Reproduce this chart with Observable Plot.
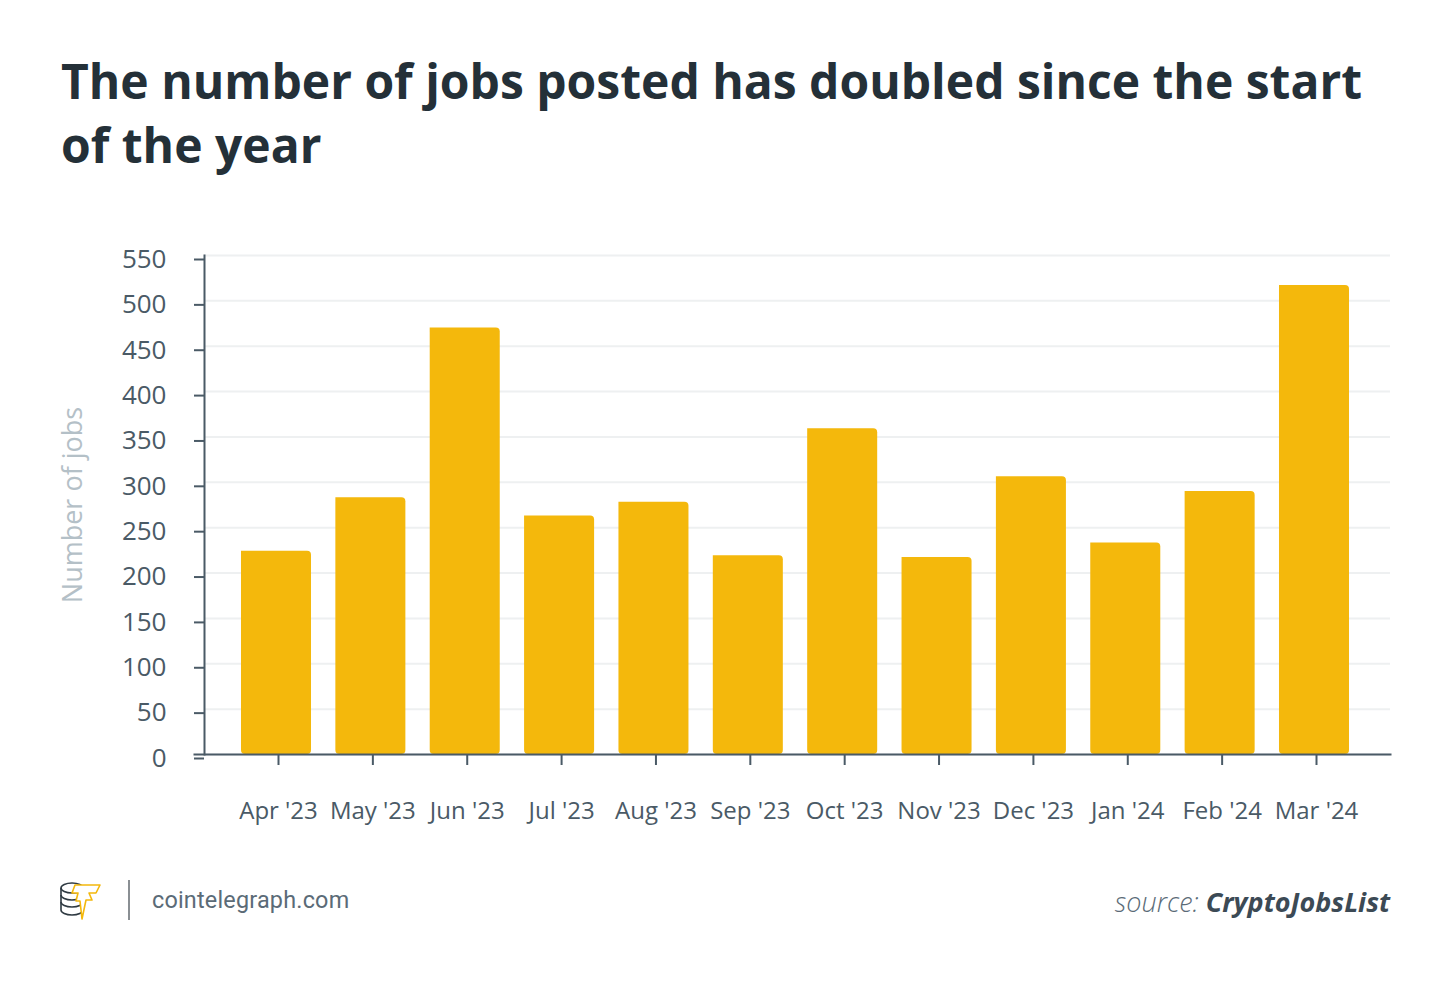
<!DOCTYPE html>
<html>
<head>
<meta charset="utf-8">
<script src="https://cdn.jsdelivr.net/npm/d3@7"></script>
<script src="https://cdn.jsdelivr.net/npm/@observablehq/plot@0.6"></script>
<style>
  html, body { margin: 0; padding: 0; background: #fff; }
  body { width: 1450px; height: 981px; position: relative; font-family: "Open Sans", sans-serif; overflow: hidden; }
  #title { position: absolute; left: 61px; top: 49px; width: 1330px; font-weight: 700; font-size: 48px; line-height: 64px; color: #243038; margin: 0; }
  #chart { position: absolute; left: 0; top: 200px; }
  #footer { position: absolute; left: 58px; top: 878px; height: 44px; display: flex; align-items: center; }
  #footer .sep { width: 2px; height: 40px; background: #8a8f93; margin-left: 26px; margin-right: 22px; }
  #footer .site { font-family: Roboto, "Open Sans", sans-serif; font-size: 23.4px; color: #5b6b77; letter-spacing: 0.2px; }
  #source { position: absolute; right: 60px; top: 883px; font-size: 27px; font-style: italic; color: #4a5a66; }
  #source .l { font-weight: 300; color: #5b6b77; }
  #source b { font-weight: 700; color: #3c4a55; }
</style>
</head>
<body>
<h1 id="title">The number of jobs posted has doubled since the start of the year</h1>
<div id="chart"></div>
<div id="footer">
  <svg width="44" height="42" viewBox="0 0 44 42">
    <g fill="none" stroke="#2f3a42" stroke-width="1.6">
      <ellipse cx="14" cy="9" rx="11" ry="5"/>
      <path d="M3 9 v22 a11 5 0 0 0 22 0 v-22"/>
      <path d="M3 16 a11 5 0 0 0 22 0"/>
      <path d="M3 23 a11 5 0 0 0 22 0"/>
    </g>
    <path d="M17 6 L42 6 L38 14 L31 14 L34 21 L28 21 L24 40 L22 22 L18 22 L20 14 L14 14 Z" fill="#fff" stroke="#f4b80c" stroke-width="1.6" stroke-linejoin="round"/>
  </svg>
  <div class="sep"></div>
  <div class="site">cointelegraph.com</div>
</div>
<div id="source"><span class="l">source: </span><b>CryptoJobsList</b></div>
<script>
const months = ["Apr '23","May '23","Jun '23","Jul '23","Aug '23","Sep '23","Oct '23","Nov '23","Dec '23","Jan '24","Feb '24","Mar '24"];
const jobs = [224, 283, 470, 263, 278, 219, 359, 217, 306, 233, 290, 517];
const yTicks = [0, 50, 100, 150, 200, 250, 300, 350, 400, 450, 500, 550];
const yLabel = "Number of jobs";

const data = months.map((m, i) => ({month: m, jobs: jobs[i]}));

const chart = Plot.plot({
  width: 1450,
  height: 650,
  marginLeft: 204,
  marginRight: 60,
  marginTop: 55,
  marginBottom: 96,
  style: {fontFamily: "'Open Sans', sans-serif", fontSize: "24px", color: "#4a5a66", background: "transparent", overflow: "visible"},
  x: {domain: months, paddingInner: 0.258, paddingOuter: 0.392, insetRight: 4, round: false, label: null},
  y: {domain: [0, 550], label: null},
  marks: [
    Plot.gridY(yTicks, {stroke: "#eef0f1", strokeOpacity: 1, strokeWidth: 2}),
    Plot.barY(data, {x: "month", y: "jobs", fill: "#f4b80c", ry2: 4, rx2: 4}),
    Plot.frame({anchor: "left", stroke: "#4a5a66", strokeWidth: 2}),
    Plot.frame({anchor: "bottom", stroke: "#4a5a66", strokeWidth: 2, insetLeft: -10}),
    Plot.axisY(yTicks, {tickSize: 10, tickPadding: 28, fontSize: 26, stroke: "#4a5a66", strokeWidth: 2, fill: "#4a5a66", dy: 4,
      label: yLabel, labelArrow: "none", labelAnchor: "center", labelOffset: 142}),
    Plot.axisX({tickSize: 11, tickPadding: 36, fontSize: 24, stroke: "#4a5a66", strokeWidth: 2, fill: "#4a5a66", dx: 2})
  ]
});
document.getElementById("chart").appendChild(chart);
// style the y-axis title
chart.querySelectorAll("text").forEach(t => {
  if (t.textContent.startsWith(yLabel)) {
    t.textContent = yLabel;
    t.setAttribute("fill", "#b4c0c7");
    t.setAttribute("font-size", "27");
  }
});
</script>
</body>
</html>
